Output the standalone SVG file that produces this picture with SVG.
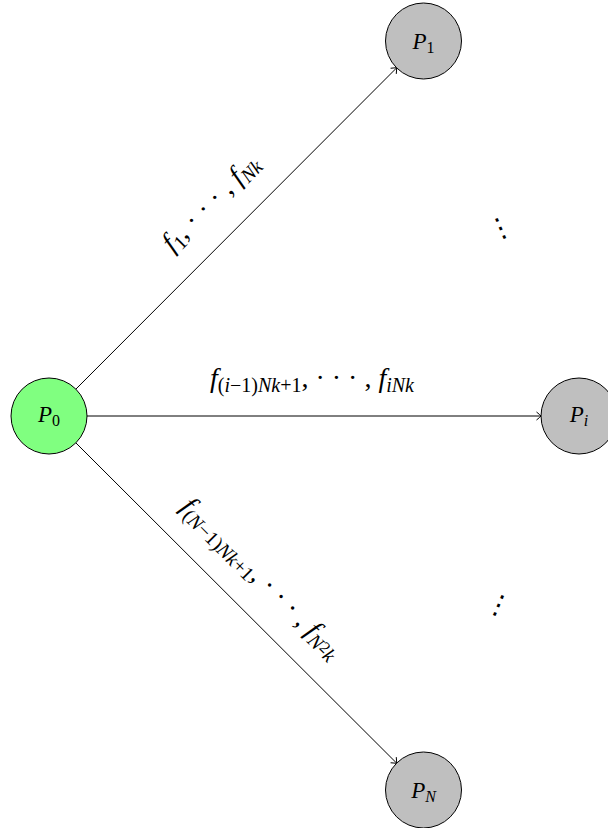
<svg xmlns="http://www.w3.org/2000/svg" width="608" height="828" viewBox="0 0 608 828">
<style>
.node{stroke:#000;stroke-width:1}
.src{fill:#80ff80}
.dst{fill:#bfbfbf}
.edge{stroke:#000;stroke-width:1;fill:none}
text{font-family:"Liberation Serif","DejaVu Serif",serif;fill:#000}
.nl{font-size:23px;text-anchor:middle}
.lbl{font-size:28px;text-anchor:middle}
.it{font-style:italic}
.s{font-size:20px}
.ns{font-size:16px}
.dots{font-family:"DejaVu Sans",sans-serif;font-size:27px;text-anchor:middle}
</style>
<defs>
<marker id="arr" markerUnits="userSpaceOnUse" markerWidth="12" markerHeight="12" viewBox="-6 -6 12 12" refX="0" refY="0" orient="auto">
<path d="M -4.5 -4 Q -1 -1.2 0 0 Q -1 1.2 -4.5 4" fill="none" stroke="#000" stroke-width="1"/>
</marker>
</defs>
<rect width="608" height="828" fill="#fff"/>
<g id="connectors">
<line class="edge" x1="75.9" y1="389.1" x2="396.6" y2="67.9" marker-end="url(#arr)"/>
<line class="edge" x1="87" y1="416" x2="541" y2="416" marker-end="url(#arr)"/>
<line class="edge" x1="75.9" y1="442.9" x2="396.6" y2="763.1" marker-end="url(#arr)"/>
<text class="lbl" transform="translate(216.5,208.7) rotate(-45)"><tspan class="it">f</tspan><tspan class="s" dy="5">1</tspan><tspan dy="-5">, · · · , </tspan><tspan class="it">f</tspan><tspan class="s it" dy="5">Nk</tspan></text>
<text class="lbl" x="312" y="387"><tspan class="it">f</tspan><tspan class="s" dy="5">(</tspan><tspan class="s it">i</tspan><tspan class="s">−1)</tspan><tspan class="s it">Nk</tspan><tspan class="s">+1</tspan><tspan dy="-5">, · · · , </tspan><tspan class="it">f</tspan><tspan class="s it" dy="5">iNk</tspan></text>
<text class="lbl" transform="translate(255.3,583.9) rotate(45)"><tspan class="it">f</tspan><tspan class="s" dy="5">(</tspan><tspan class="s it">N</tspan><tspan class="s">−1)</tspan><tspan class="s it">Nk</tspan><tspan class="s">+1</tspan><tspan dy="-5">, · · · , </tspan><tspan class="it">f</tspan><tspan class="s it" dy="5">N</tspan><tspan class="ns" dy="-4">2</tspan><tspan class="s it" dy="4">k</tspan></text>
</g>
<g id="P0">
<circle class="node src" cx="49" cy="416" r="38"/>
<text class="nl" x="49" y="422"><tspan class="it">P</tspan><tspan class="ns" dy="4">0</tspan></text>
</g>
<g id="P1">
<circle class="node dst" cx="423.5" cy="41" r="38"/>
<text class="nl" x="423.5" y="49"><tspan class="it">P</tspan><tspan class="ns" dy="4">1</tspan></text>
</g>
<g id="Pi">
<circle class="node dst" cx="579" cy="416" r="38"/>
<text class="nl" x="579" y="422"><tspan class="it">P</tspan><tspan class="ns it" dy="4">i</tspan></text>
</g>
<g id="PN">
<circle class="node dst" cx="423.5" cy="790" r="38"/>
<text class="nl" x="423.5" y="798"><tspan class="it">P</tspan><tspan class="ns it" dy="4">N</tspan></text>
</g>
<g id="vdots-upper">
<text class="dots" transform="translate(500,227) rotate(-23)" y="10">⋮</text>
</g>
<g id="vdots-lower">
<text class="dots" transform="translate(499,604) rotate(23)" y="10">⋮</text>
</g>
</svg>
